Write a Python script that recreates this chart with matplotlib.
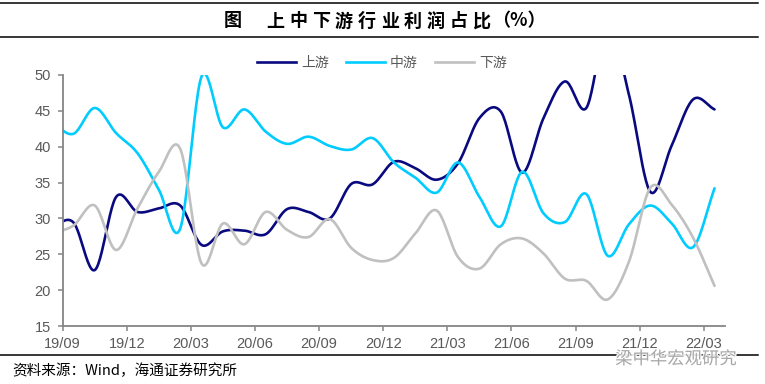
import numpy as np
import matplotlib
matplotlib.use("Agg")
import matplotlib.pyplot as plt
from matplotlib.lines import Line2D
import matplotlib.patheffects as pe

plt.rcParams['font.family'] = ['Liberation Sans', 'Noto Sans CJK SC', 'DejaVu Sans']

# ---- data (monthly, first month 19/08 lies left of the axis start) ----
months = ['19/08', '19/09', '19/10', '19/11', '19/12', '20/01', '20/02', '20/03', '20/04',
          '20/05', '20/06', '20/07', '20/08', '20/09', '20/10', '20/11', '20/12', '21/01',
          '21/02', '21/03', '21/04', '21/05', '21/06', '21/07', '21/08', '21/09', '21/10',
          '21/11', '21/12', '22/01', '22/02', '22/03']
upstream = [28.8, 29.45, 22.8, 33.0, 30.9, 31.4, 31.8, 26.3, 28.2, 28.3, 27.8, 31.3,
            30.9, 30.0, 34.8, 34.75, 37.9, 37.0, 35.4, 37.7, 44.0, 44.9, 36.4, 44.0,
            49.1, 45.4, 57.0, 47.2, 33.7, 40.2, 46.6, 45.2]
midstream = [43.4, 41.8, 45.4, 41.9, 39.1, 34.0, 28.6, 49.8, 42.7, 45.2, 42.1, 40.4,
             41.4, 40.1, 39.6, 41.2, 37.8, 35.7, 33.6, 37.8, 33.0, 28.9, 36.5, 30.7,
             29.5, 33.4, 24.8, 29.2, 31.8, 29.3, 26.0, 34.2]
downstream = [27.9, 29.0, 31.8, 25.6, 31.4, 36.5, 39.7, 23.7, 29.3, 26.4, 30.9, 28.4,
              27.4, 29.9, 25.9, 24.2, 24.5, 27.9, 31.1, 24.6, 23.0, 26.4, 27.2, 25.1,
              21.6, 21.3, 18.7, 24.0, 34.3, 31.9, 27.3, 20.6]
tick_labels = ['19/09', '19/12', '20/03', '20/06', '20/09', '20/12',
               '21/03', '21/06', '21/09', '21/12', '22/03']
series_names = ['上游', '中游', '下游']
colors = ['#0A0A80', '#00CCFF', '#C0C0C0']


def smooth(x, y, n=24):
    """Catmull-Rom (Excel-style smoothed line) through the data points."""
    x = np.asarray(x, float); y = np.asarray(y, float)
    m = np.empty_like(y)
    m[1:-1] = (y[2:] - y[:-2]) / 2
    m[0] = y[1] - y[0]; m[-1] = y[-1] - y[-2]
    xs, ys = [], []
    for i in range(len(y) - 1):
        t = np.linspace(0, 1, n, endpoint=False)
        h00 = 2*t**3 - 3*t**2 + 1; h10 = t**3 - 2*t**2 + t
        h01 = -2*t**3 + 3*t**2; h11 = t**3 - t**2
        ys.append(h00*y[i] + h10*m[i] + h01*y[i+1] + h11*m[i+1])
        xs.append(x[i] + t*(x[i+1]-x[i]))
    xs.append([x[-1]]); ys.append([y[-1]])
    return np.concatenate(xs), np.concatenate(ys)


W, H = 765, 384
fig = plt.figure(figsize=(W/100, H/100), dpi=100)
ax = fig.add_axes([62.7/W, 1-326/H, (725.2-62.7)/W, (326-75)/H])

xpos = np.arange(len(months)) - 0.5   # mid-month positions, 19/09 tick at 0
for vals, c in zip([upstream, midstream, downstream], colors):
    sx, sy = smooth(xpos, vals)
    ax.plot(sx, sy, color=c, lw=1.9, solid_capstyle='round')

ax.set_xlim(0, 31)
ax.set_ylim(15, 50)
ax.set_yticks(np.arange(15, 51, 5))
ax.set_xticks(np.arange(0, 31, 3))
ax.set_xticklabels(tick_labels)
for s in ['top', 'right']:
    ax.spines[s].set_visible(False)
for s in ['left', 'bottom']:
    ax.spines[s].set_color('#858585')
    ax.spines[s].set_linewidth(1.3)
ax.tick_params(axis='both', direction='out', length=3.6, width=1.1, color='#858585',
               labelcolor='#595959', labelsize=10.5)
ax.tick_params(axis='y', pad=5)
ax.tick_params(axis='x', pad=4.5)

# legend
handles = [Line2D([], [], color=c, lw=1.9) for c in colors]
leg = fig.legend(handles, series_names, loc='center', bbox_to_anchor=(382/W, 1-63/H),
                 ncol=3, frameon=False, handlelength=2.8, handletextpad=0.35,
                 columnspacing=1.25, fontsize=10)
for t in leg.get_texts():
    t.set_color('#595959')

# title with separating rules
for yy in (3.3, 37.3, 355):
    fig.add_artist(Line2D([0, 758/W], [1-yy/H, 1-yy/H], color='black', lw=1.1))
fig.text(233/W, 1-21/H, '图', ha='center', va='center', fontsize=13, fontweight='bold',
         family=['Noto Sans CJK SC'])
title_chars = '上中下游行业利润占比'
for i, ch in enumerate(title_chars):
    fig.text((275 + 23*i)/W, 1-21/H, ch, ha='center', va='center', fontsize=13,
             fontweight='bold', family=['Noto Sans CJK SC'])
fig.text(492/W, 1-21/H, '（%）', ha='left', va='center', fontsize=13, fontweight='bold',
         family=['Noto Sans CJK SC', 'DejaVu Sans'])

# source note
fig.text(12/W, 1-371/H, '资料来源：Wind，海通证券研究所', ha='left', va='center',
         fontsize=10.5, family=['Noto Sans CJK SC', 'DejaVu Sans'], color='black')

# watermark
fig.text(676/W, 1-359/H, '梁中华宏观研究', ha='center', va='center', fontsize=12.5,
         color='#a0a0a0', alpha=0.9, family=['Noto Sans CJK SC'],
         path_effects=[pe.withStroke(linewidth=2, foreground='white')])

fig.savefig('out.png', dpi=100)
